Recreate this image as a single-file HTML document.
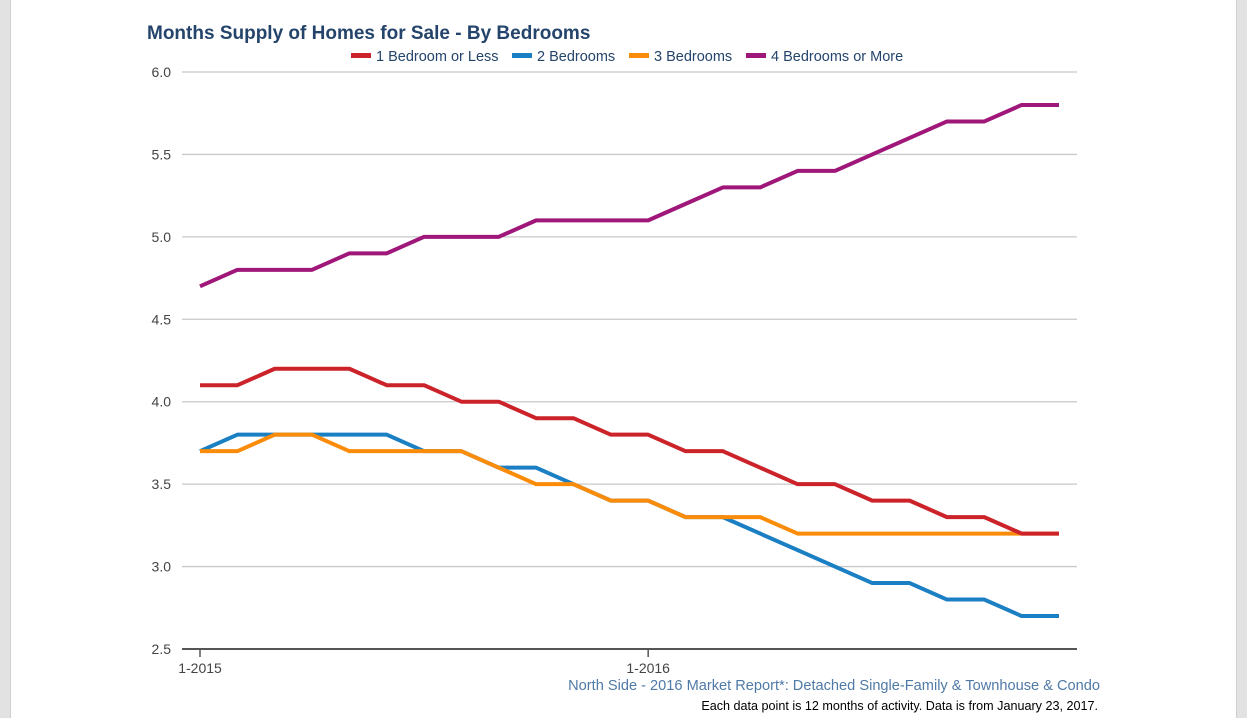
<!DOCTYPE html>
<html><head><meta charset="utf-8"><style>
body{margin:0;width:1247px;height:718px;background:#fff;overflow:hidden;font-family:"Liberation Sans",sans-serif;}
.edge{position:absolute;top:0;bottom:0;width:10px;background:#e2e2e2;}
</style></head><body>
<div class="edge" style="left:0;border-right:1px solid #cfcfcf"></div>
<div class="edge" style="right:0;border-left:1px solid #cfcfcf"></div>
<svg id="chart" width="1247" height="718" style="position:absolute;left:0;top:0">
<text x="147" y="39" font-size="19" font-weight="bold" fill="#24446b">Months Supply of Homes for Sale - By Bedrooms</text>
<g id="grid"></g><g id="series"></g><g id="legend"></g>
<text x="1100" y="690" text-anchor="end" font-size="14.6" fill="#4f79a6">North Side - 2016 Market Report*: Detached Single-Family &amp; Townhouse &amp; Condo</text>
<text x="1098" y="710" text-anchor="end" font-size="12.6" fill="#000">Each data point is 12 months of activity. Data is from January 23, 2017.</text>
</svg>
<script>
const seriesNames=["1 Bedroom or Less","2 Bedrooms","3 Bedrooms","4 Bedrooms or More"];
const seriesColors=["#cc2229","#1b7fc4","#fb8c0a","#a0177a"];
const oneBed=[4.1,4.1,4.2,4.2,4.2,4.1,4.1,4.0,4.0,3.9,3.9,3.8,3.8,3.7,3.7,3.6,3.5,3.5,3.4,3.4,3.3,3.3,3.2,3.2];
const twoBed=[3.7,3.8,3.8,3.8,3.8,3.8,3.7,3.7,3.6,3.6,3.5,3.4,3.4,3.3,3.3,3.2,3.1,3.0,2.9,2.9,2.8,2.8,2.7,2.7];
const threeBed=[3.7,3.7,3.8,3.8,3.7,3.7,3.7,3.7,3.6,3.5,3.5,3.4,3.4,3.3,3.3,3.3,3.2,3.2,3.2,3.2,3.2,3.2,3.2,3.2];
const fourBed=[4.7,4.8,4.8,4.8,4.9,4.9,5.0,5.0,5.0,5.1,5.1,5.1,5.1,5.2,5.3,5.3,5.4,5.4,5.5,5.6,5.7,5.7,5.8,5.8];
const yTicks=[2.5,3.0,3.5,4.0,4.5,5.0,5.5,6.0];
const xTickLabels=[[0,"1-2015"],[12,"1-2016"]];
const NS="http://www.w3.org/2000/svg";
const x=i=>200+i*(1059-200)/23;
const y=v=>649-(v-2.5)*(649-72)/3.5;
function mk(tag,attrs,parent){const e=document.createElementNS(NS,tag);for(const k in attrs)e.setAttribute(k,attrs[k]);parent.appendChild(e);return e;}
const grid=document.getElementById('grid');
yTicks.forEach(t=>{
  const l=mk('line',{x1:182,x2:1077,y1:y(t),y2:y(t),stroke:t===2.5?'#555':'#c8c8c8','stroke-width':t===2.5?2:1.3},grid);
  
  
  const tx=mk('text',{x:171,y:y(t)+5,'text-anchor':'end','font-size':14,fill:'#444'},grid);
  tx.textContent=t.toFixed(1);
  
  
});
xTickLabels.forEach(([i,lab])=>{
  const tk=mk('line',{x1:x(i),x2:x(i),y1:650,y2:657,stroke:'#555','stroke-width':1.5},grid);
  
  
  const tx=mk('text',{x:x(i),y:673,'text-anchor':'middle','font-size':14,fill:'#444'},grid);
  tx.textContent=lab;
  
  
});
const data=[oneBed,twoBed,threeBed,fourBed];
const sg=document.getElementById('series');
[1,2,0,3].forEach(s=>{
  const p=mk('polyline',{points:data[s].map((v,i)=>x(i)+','+y(v)).join(' '),fill:'none',stroke:seriesColors[s],'stroke-width':4,'stroke-linejoin':'round'},sg);
  
  
});
const lg=document.getElementById('legend');
const lx=[351,512,629,746];
seriesNames.forEach((n,s)=>{
  const r=mk('rect',{x:lx[s],y:53,width:20,height:5,fill:seriesColors[s]},lg);
  
  
  const t=mk('text',{x:lx[s]+25,y:61,'font-size':14.5,fill:'#24446b'},lg);
  t.textContent=n;
  
  
});
</script>
</body></html>
